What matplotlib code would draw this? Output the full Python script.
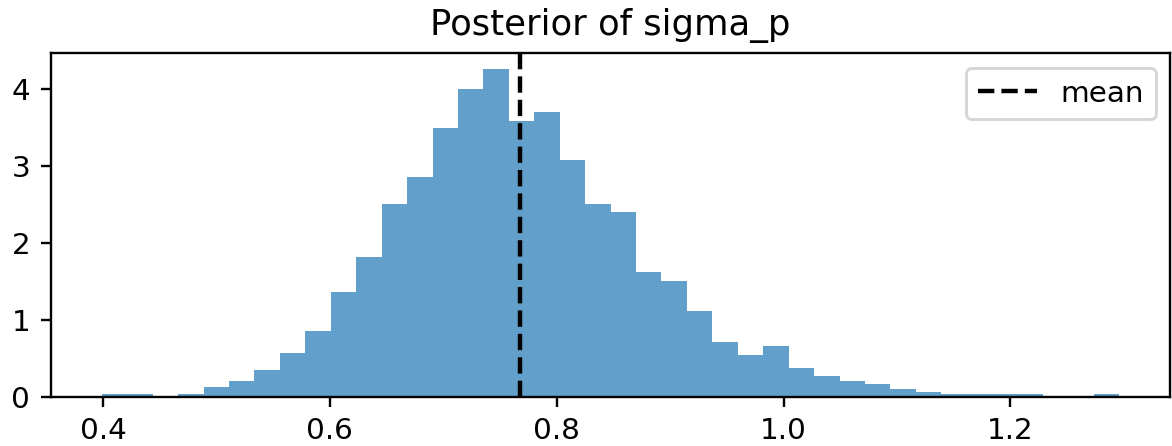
import numpy as np
import matplotlib
matplotlib.use("Agg")
from matplotlib import pyplot as plt

# histogram of posterior draws for sigma_p (density per bin)
bin_start = 0.399
bin_stop = 1.296
n_bins = 40
density = [0.03, 0.03, 0.0, 0.03, 0.12, 0.20, 0.35, 0.57, 0.86, 1.36,
           1.82, 2.51, 2.86, 3.50, 4.01, 4.26, 3.59, 3.70, 3.08, 2.51,
           2.40, 1.62, 1.50, 1.11, 0.71, 0.54, 0.66, 0.38, 0.27, 0.21,
           0.17, 0.10, 0.065, 0.03, 0.03, 0.03, 0.03, 0.0, 0.0, 0.03]
sigma_mean = 0.768

edges = np.linspace(bin_start, bin_stop, n_bins + 1)
centers = (edges[:-1] + edges[1:]) / 2

dpi = 212
fig = plt.figure(figsize=(1172 / dpi, 446 / dpi), dpi=dpi)
ax = fig.add_axes([0.0435, 0.1105, 0.955, 0.7705])

ax.hist(centers, bins=edges, weights=density, alpha=0.7)
ax.axvline(sigma_mean, color="k", linestyle="--", label="mean")
ax.set_title("Posterior of sigma_p")
ax.legend(loc="upper right")

plt.savefig("out.png", dpi=dpi)
